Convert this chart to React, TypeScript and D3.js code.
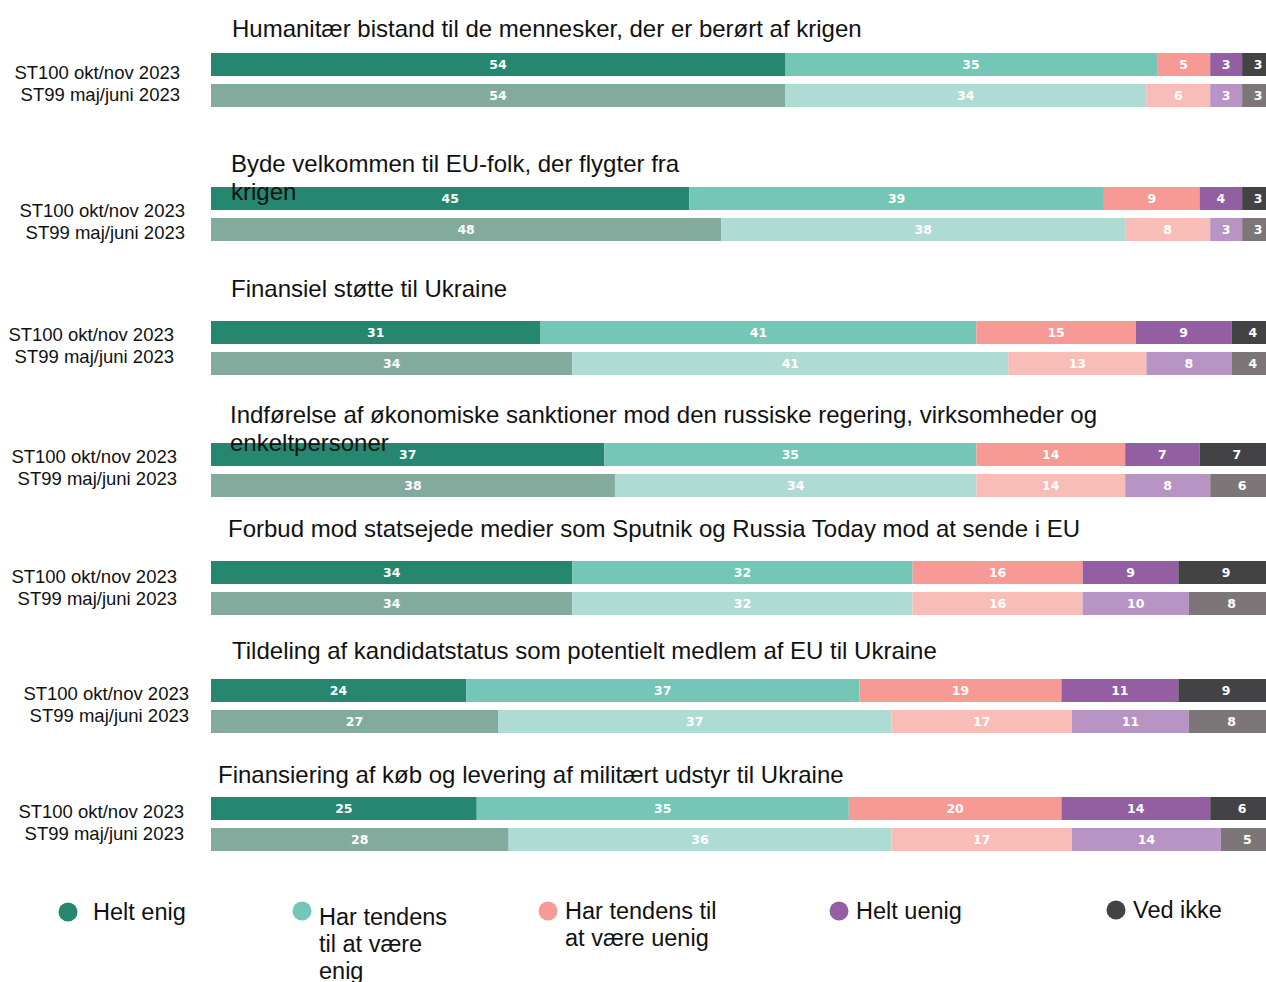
import React from "react";
import * as d3 from "d3";

// survey items (question titles, wrapped as in the original)
const questions = [
  ["Humanitær bistand til de mennesker, der er berørt af krigen"],
  ["Byde velkommen til EU-folk, der flygter fra", "krigen"],
  ["Finansiel støtte til Ukraine"],
  ["Indførelse af økonomiske sanktioner mod den russiske regering, virksomheder og", "enkeltpersoner"],
  ["Forbud mod statsejede medier som Sputnik og Russia Today mod at sende i EU"],
  ["Tildeling af kandidatstatus som potentielt medlem af EU til Ukraine"],
  ["Finansiering af køb og levering af militært udstyr til Ukraine"],
];

const waves = ["ST100 okt/nov 2023", "ST99 maj/juni 2023"];
const answers = ["Helt enig", "Har tendens til at være enig", "Har tendens til at være uenig", "Helt uenig", "Ved ikke"];

// percentages per answer, [question][answer]
const st100 = [
  [54, 35, 5, 3, 3],
  [45, 39, 9, 4, 3],
  [31, 41, 15, 9, 4],
  [37, 35, 14, 7, 7],
  [34, 32, 16, 9, 9],
  [24, 37, 19, 11, 9],
  [25, 35, 20, 14, 6],
];
const st99 = [
  [54, 34, 6, 3, 3],
  [48, 38, 8, 3, 3],
  [34, 41, 13, 8, 4],
  [38, 34, 14, 8, 6],
  [34, 32, 16, 10, 8],
  [27, 37, 17, 11, 8],
  [28, 36, 17, 14, 5],
];

const legendLines = [["Helt enig"], ["Har tendens", "til at være", "enig"], ["Har tendens til", "at være uenig"], ["Helt uenig"], ["Ved ikke"]];

const colorsNew = ["#26866f", "#74c6b7", "#f79a95", "#935fa2", "#434346"];
const colorsOld = ["#82ab9d", "#aedcd4", "#f9bdb8", "#b894c4", "#7d7678"];

// layout (the source slide placed blocks by hand)
const groupTop = [53, 187, 321, 443, 561, 679, 797];
const titleBase = [37, 172, 297, 423, 537, 659, 783];
const titleX = [232, 231, 231, 230, 228, 232, 218];
const labelRight = [180, 185, 174, 177, 177, 189, 184];
const labelMid = [84, 222, 346, 468, 588, 705, 823];
const legendX = [68, 302, 548, 839, 1116];
const legendY = [912, 911, 911, 911, 910];

const W = 1266;
const H = 982;
const BAR_H = 23;
const ROW_STEP = 31;

export default function App() {
  const x = d3.scaleLinear().domain([0, 100]).range([211, 1274]);
  const rowY = d3.scaleOrdinal<number, number>().domain(d3.range(questions.length)).range(groupTop);
  const font = "'Liberation Sans', Arial, sans-serif";

  const stacks = [st100, st99];
  const palettes = [colorsNew, colorsOld];

  return (
    <svg width={W} height={H} style={{ position: "absolute", left: 0, top: 0, background: "#fff" }}>
      {questions.map((title, qi) => {
        const top = rowY(qi);
        return (
          <g key={qi}>
            {stacks.map((data, wi) => {
              const vals = data[qi];
              const ends = d3.cumsum(vals);
              const y0 = top + wi * ROW_STEP;
              return (
                <g key={wi}>
                  {vals.map((v, ai) => {
                    const a = x(ends[ai] - v);
                    const b = x(ends[ai]);
                    return (
                      <g key={ai}>
                        <rect x={a} y={y0} width={b - a} height={BAR_H} fill={palettes[wi][ai]} />
                        <text
                          x={(a + b) / 2}
                          y={y0 + BAR_H / 2}
                          dy="0.36em"
                          textAnchor="middle"
                          fill="#fff"
                          fontFamily="'DejaVu Sans', sans-serif"
                          fontWeight="bold"
                          fontSize={12.5}
                        >
                          {v}
                        </text>
                      </g>
                    );
                  })}
                </g>
              );
            })}
            {title.map((line, li) => (
              <text key={li} x={titleX[qi]} y={titleBase[qi] + li * 28} fontFamily={font} fontSize={24} fill="#111">
                {line}
              </text>
            ))}
            {waves.map((w, wi) => (
              <text
                key={w}
                x={labelRight[qi]}
                y={labelMid[qi] + (wi - 0.5) * 22}
                dy="0.35em"
                textAnchor="end"
                fontFamily={font}
                fontSize={18.5}
                fill="#111"
              >
                {w}
              </text>
            ))}
          </g>
        );
      })}

      {answers.map((a, i) => (
        <g key={a}>
          <circle cx={legendX[i]} cy={legendY[i]} r={9.5} fill={colorsNew[i]} />
          {legendLines[i].map((line, li) => (
            <text
              key={li}
              x={legendX[i] + 17 + (i === 0 ? 8 : 0)}
              y={legendY[i] + (i === 1 ? 6 : 0) + li * 27}
              dy="0.35em"
              fontFamily={font}
              fontSize={23.5}
              fill="#111"
            >
              {line}
            </text>
          ))}
        </g>
      ))}
    </svg>
  );
}
